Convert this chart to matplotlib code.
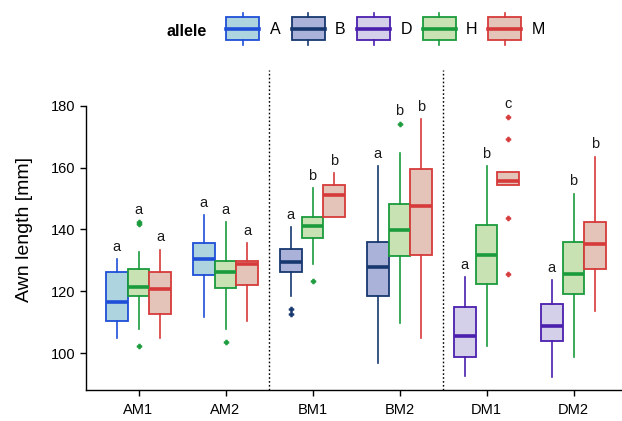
import matplotlib
matplotlib.use("Agg")
import matplotlib.pyplot as plt
from matplotlib.patches import Rectangle
from matplotlib.lines import Line2D

plt.rcParams['font.family'] = ['Liberation Sans', 'DejaVu Sans']

# ---------------- data ----------------
categories = ['AM1', 'AM2', 'BM1', 'BM2', 'DM1', 'DM2']
alleles = ['A', 'B', 'D', 'H', 'M']
box_alleles = [['A', 'H', 'M'], ['A', 'H', 'M'],
               ['B', 'H', 'M'], ['B', 'H', 'M'],
               ['D', 'H', 'M'], ['D', 'H', 'M']]

whislo = [104.8, 107.9, 104.8,   111.8, 107.9, 110.5,
          118.5, 128.9, 144.0,   96.8, 109.7, 104.8,
          92.8, 102.5, 154.5,    92.2, 98.7, 113.8]
q1 = [110.5, 118.5, 112.7,   125.2, 121.1, 122.0,
      126.4, 137.2, 144.1,   118.5, 131.4, 131.9,
      98.9, 122.4, 154.5,    104.0, 119.1, 127.2]
med = [116.7, 121.5, 120.7,   130.4, 126.4, 128.7,
       129.6, 141.1, 151.1,   127.8, 139.8, 147.7,
       105.6, 131.8, 155.8,   108.8, 125.7, 135.3]
q3 = [126.4, 127.3, 126.4,   135.7, 129.9, 129.9,
      133.6, 144.1, 154.4,   136.1, 148.1, 159.6,
      114.9, 141.5, 158.4,   115.8, 136.1, 142.3]
whishi = [130.4, 132.6, 133.4,   144.6, 142.3, 135.5,
          140.7, 153.3, 158.2,   160.5, 164.6, 175.6,
          124.6, 160.5, 158.4,   123.7, 151.5, 163.5]
fliers = [[], [141.6, 142.4, 102.4], [],
          [], [103.7], [],
          [114.3, 112.7], [123.5], [],
          [], [174.1], [],
          [], [], [176.4, 169.2, 143.6, 125.5],
          [], [], []]
letters = ['a', 'a', 'a',  'a', 'a', 'a',
           'a', 'b', 'b',  'a', 'b', 'b',
           'a', 'b', 'c',  'a', 'b', 'b']

fill_colors = {'A': '#aed4e0', 'B': '#aab2da', 'D': '#d5d0ea',
               'H': '#c9e2b3', 'M': '#e4c4b9'}
edge_colors = {'A': '#1f4fd8', 'B': '#17386f', 'D': '#4a1fae',
               'H': '#1a9b3c', 'M': '#d63a3a'}

# ---------------- figure ----------------
W, H = 622, 421
fig = plt.figure(figsize=(W / 100, H / 100), dpi=100)

px_left, px_right, px_top, px_bot = 86.3, 625.7, 70, 390
ax = fig.add_axes([px_left / W, (H - px_bot) / H,
                   (px_right - px_left) / W, (px_bot - px_top) / H])

offsets = [-0.25, 0.0, 0.25]
width = 0.25
k = 0
for ci, cat in enumerate(categories):
    for j, al in enumerate(box_alleles[ci]):
        pos = ci + 1 + offsets[j]
        st = dict(med=med[k], q1=q1[k], q3=q3[k], whislo=whislo[k],
                  whishi=whishi[k], fliers=fliers[k])
        ec = edge_colors[al]
        ax.bxp([st], positions=[pos], widths=width, patch_artist=True,
               showcaps=False,
               boxprops=dict(facecolor=fill_colors[al], edgecolor=ec, linewidth=1.3),
               whiskerprops=dict(color=ec, linewidth=1.2),
               medianprops=dict(color=ec, linewidth=2.6, solid_capstyle='butt'),
               flierprops=dict(marker='P', markersize=3.5, markerfacecolor=ec,
                               markeredgecolor=ec, markeredgewidth=0.5,
                               linestyle='none'),
               manage_ticks=False)
        top = max([whishi[k]] + fliers[k])
        ax.text(pos, top + 4.0, letters[k], ha='center', va='center',
                fontsize=10.5, color='#1a1a1a')
        k += 1

for xv in (2.5, 4.5):
    ax.axvline(xv, color='black', linestyle=(0, (1.2, 1.6)), linewidth=1.0)

ax.set_xlim(0.4, 6.6)
ax.set_ylim(88.14, 191.5)
ax.set_xticks(range(1, len(categories) + 1))
ax.set_xticklabels(categories)
ax.set_yticks([100, 120, 140, 160, 180])
ax.spines['top'].set_visible(False)
ax.spines['right'].set_visible(False)
ax.spines['left'].set_bounds(88.14, 180)
ax.tick_params(axis='both', direction='out', length=4, width=1, labelsize=10.5,
               colors='black', pad=4)
ax.tick_params(axis='x', labelsize=10.5, pad=5)
ax.set_ylabel('Awn length [mm]', fontsize=14, labelpad=13)
for s in ('left', 'bottom'):
    ax.spines[s].set_linewidth(1.0)

# ---------------- legend (top) ----------------
lax = fig.add_axes([0, 0, 1, 1])
lax.set_xlim(0, W)
lax.set_ylim(H, 0)
lax.axis('off')
lax.text(207, 31, 'allele', ha='right', va='center', fontsize=11.5,
         fontweight='bold')
for i, al in enumerate(alleles):
    x0 = 226 + i * 65.5
    ec = edge_colors[al]
    lax.add_patch(Rectangle((x0, 17.3), 33, 22.7, facecolor=fill_colors[al],
                            edgecolor=ec, linewidth=1.3))
    lax.add_line(Line2D([x0, x0 + 33], [28.7, 28.7], color=ec, linewidth=2.6))
    lax.add_line(Line2D([x0 + 16.5] * 2, [13, 17.3], color=ec, linewidth=1.2))
    lax.add_line(Line2D([x0 + 16.5] * 2, [40, 45], color=ec, linewidth=1.2))
    lax.text(x0 + 43.5, 30, al, ha='left', va='center', fontsize=11.5)

fig.savefig('out.png', dpi=100)
